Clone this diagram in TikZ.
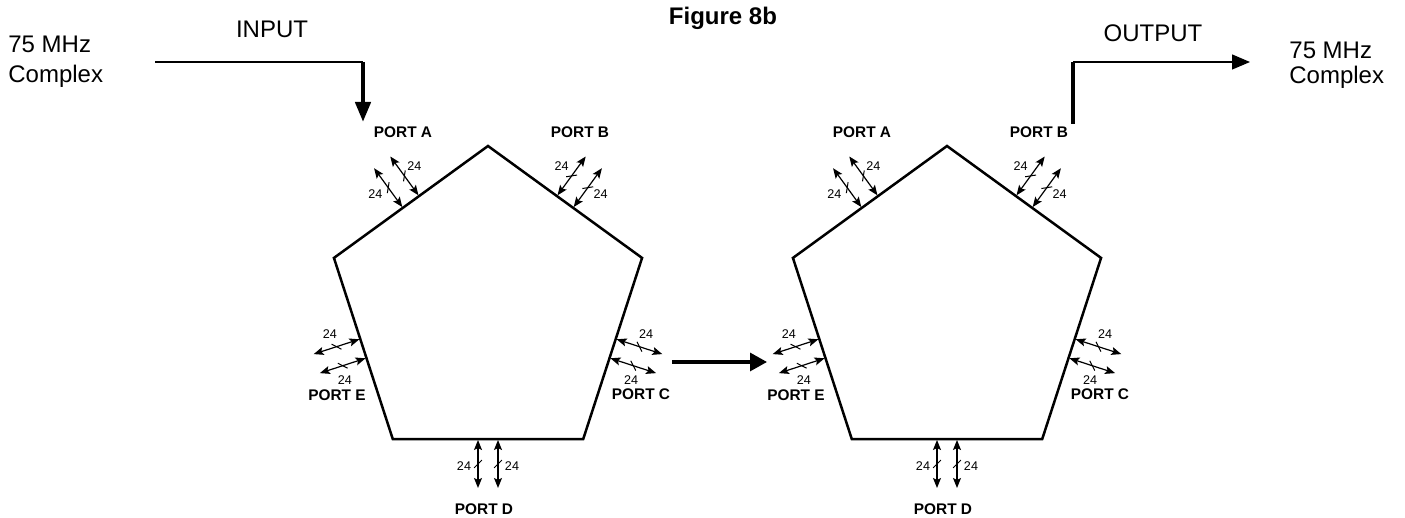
\documentclass[tikz,border=0pt]{standalone}
\usepackage{fontspec}
\setmainfont{Liberation Sans}
\usepackage{tikz}
\usetikzlibrary{calc}
\usetikzlibrary{arrows.meta}
\usetikzlibrary{shapes.geometric}
\usetikzlibrary{positioning}

\tikzset{
  pent/.style={draw,regular polygon,regular polygon sides=5,minimum size=162pt,inner sep=0pt,outer sep=0pt,line width=1.25pt},
  portname/.style={font=\fontsize{7.7}{8}\selectfont\bfseries,inner sep=0pt,anchor=base},
  buswidth/.style={font=\fontsize{6.3}{7}\selectfont,inner sep=0pt},
  bus/.style={{Stealth[length=5pt,width=4pt,inset=1pt]}-{Stealth[length=5pt,width=4pt,inset=1pt]},line width=0.6pt},
  bustick/.style={line width=0.5pt},
  bigtext/.style={font=\fontsize{12}{15}\selectfont,inner sep=0pt},
}

% two 24-bit buses standing out of one side of a pentagon
\newcommand{\busport}[2]{%
  \foreach \s in {90,-90}{
    \coordinate (bp) at ($(#1)+(#2:132)+(#2+\s:10)$);
    \coordinate (bq) at ($(bp)+(#2:48)$);
    \draw[bus] (bp) -- (bq);
    \draw[bustick] ($(bp)!0.5!(bq)+(#2-45:5.5)$) -- ($(bp)!0.5!(bq)+(#2+135:5.5)$);
    \node[buswidth] (bw) at ($(bp)!0.55!(bq)+(#2+\s:14)$) {24};
  }}

\begin{document}
\begin{tikzpicture}[x=0.5pt,y=0.5pt]
	\useasboundingbox (0,0) rectangle (1405,518);
	\node[anchor=base,inner sep=0pt,font=\fontsize{12}{14}\selectfont\bfseries] (fig) at (723,493) {Figure 8b};

	\node[pent] (pentL) at (488,210) {};
	\node[pent] (pentR) at (947,210) {};

	\foreach \p in {pentL,pentR}{
		\node[portname] (\p-A) at ($(\p)+(-85,170)$) {PORT A};
		\node[portname] (\p-B) at ($(\p)+(92,170)$) {PORT B};
		\node[portname] (\p-C) at ($(\p)+(153,-92)$) {PORT C};
		\node[portname] (\p-D) at ($(\p)+(-4,-207)$) {PORT D};
		\node[portname] (\p-E) at ($(\p)+(-151,-93)$) {PORT E};
		\busport{\p}{126}
		\busport{\p}{54}
		\busport{\p}{-18}
		\busport{\p}{270}
		\busport{\p}{198}
	}

	% input side
	\node[bigtext,anchor=north west,align=left] (srcL) at (8,482) {75 MHz\\Complex};
	\node[anchor=base,inner sep=0pt,font=\fontsize{12}{14}\selectfont] (inlab) at (272,480) {INPUT};
	\coordinate (inA) at (155,456);
	\coordinate (inB) at (363,456);
	\coordinate (inC) at (363,396);
	\draw[line width=0.65pt] (inA) -- (inB);
	\draw[line width=2.2pt,-{Triangle[length=10pt,width=7.5pt]}] (inB) -- (inC);

	% link between the two pentagons
	\coordinate (linkS) at (672,156);
	\coordinate (linkE) at (767,156);
	\draw[line width=1.6pt,-{Triangle[length=8.5pt,width=9pt]}] (linkS) -- (linkE);

	% output side
	\node[font=\fontsize{12}{12.5}\selectfont,inner sep=0pt,anchor=north west,align=left] (dstR) at (1289,476) {75 MHz\\Complex};
	\node[anchor=base,inner sep=0pt,font=\fontsize{12}{14}\selectfont] (outlab) at (1153,476) {OUTPUT};
	\coordinate (outA) at (1073,394);
	\coordinate (outB) at (1073,456);
	\coordinate (outC) at (1250,456);
	\draw[line width=2.1pt] (outA) -- (outB);
	\draw[line width=0.65pt,-{Triangle[length=9pt,width=7.5pt]}] (outB) -- (outC);
\end{tikzpicture}
\end{document}
